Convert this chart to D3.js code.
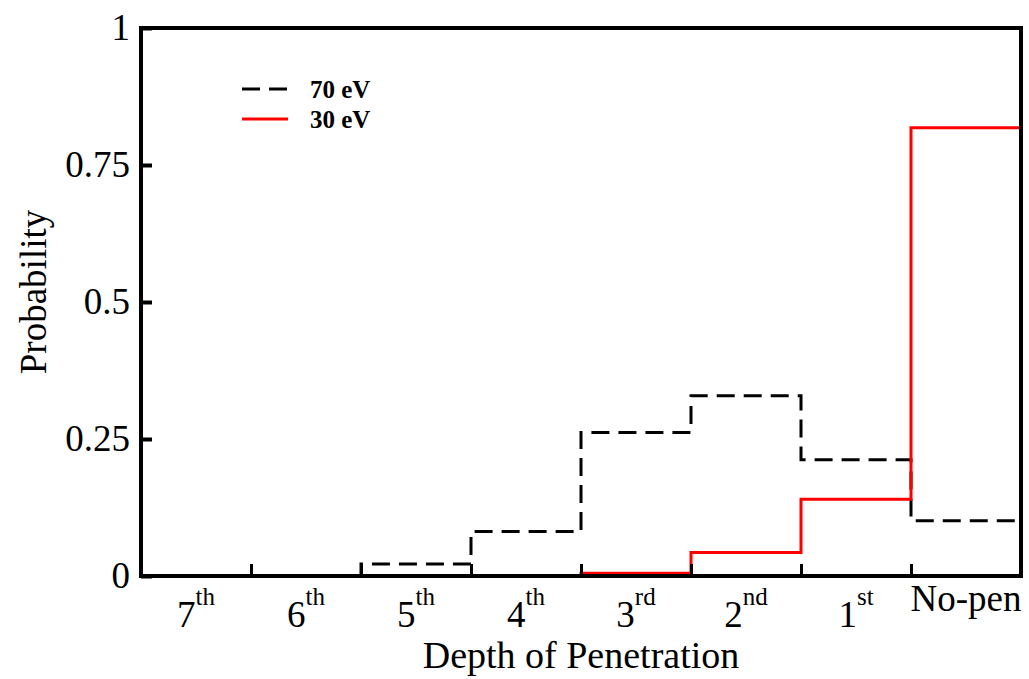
<!DOCTYPE html>
<html>
<head>
<meta charset="utf-8">
<script src="https://cdn.jsdelivr.net/npm/d3@7"></script>
<style>
  body { margin: 0; background: #fff; }
  text { font-family: "Liberation Serif", "Times New Roman", serif; fill: #000; }
</style>
</head>
<body>
<div id="container"></div>
<script>
// data
const depths = ["7", "6", "5", "4", "3", "2", "1", "No-pen"];
const suffixes = ["th", "th", "th", "th", "rd", "nd", "st", ""];
const yTicks = [0, 0.25, 0.5, 0.75, 1];
const yTickLabels = ["0", "0.25", "0.5", "0.75", "1"];
const p70 = [0, 0, 0.022, 0.081, 0.262, 0.329, 0.212, 0.101];
const p30 = [0, 0, 0, 0, 0.005, 0.043, 0.14, 0.818];
const seriesNames = ["70 eV", "30 eV"];

const width = 1029, height = 679;
const margin = { top: 28, right: 8, bottom: 103, left: 141 };

const svg = d3.select("#container").append("svg")
  .attr("width", width)
  .attr("height", height);

const x = d3.scaleBand()
  .domain(depths)
  .range([margin.left, width - margin.right])
  .padding(0);

// bin edges as a linear scale for boundary ticks
const xEdge = d3.scaleLinear()
  .domain([0, depths.length])
  .range([margin.left, width - margin.right]);

const y = d3.scaleLinear()
  .domain([0, 1])
  .range([height - margin.bottom, margin.top]);

// step lines
function stepPoints(vals) {
  const pts = vals.map((v, i) => [x(depths[i]), y(v)]);
  pts.push([x(depths[depths.length - 1]) + x.bandwidth(), y(vals[vals.length - 1])]);
  return pts;
}
const line = d3.line().curve(d3.curveStepAfter);

svg.append("path")
  .attr("d", line(stepPoints(p70)))
  .attr("fill", "none")
  .attr("stroke", "#000")
  .attr("stroke-width", 3)
  .attr("stroke-dasharray", "18,9");

svg.append("path")
  .attr("d", line(stepPoints(p30)))
  .attr("fill", "none")
  .attr("stroke", "#ff0000")
  .attr("stroke-width", 3);

// y axis
const yAxis = svg.append("g")
  .attr("transform", `translate(${margin.left},0)`)
  .call(d3.axisLeft(y)
    .tickValues(yTicks)
    .tickFormat((d, i) => yTickLabels[i])
    .tickSizeInner(-11)
    .tickSizeOuter(0)
    .tickPadding(11));
yAxis.select(".domain").remove();
yAxis.selectAll(".tick line").attr("stroke-width", 4);
yAxis.selectAll(".tick text")
  .style("font-size", "37px")
  .style("font-family", "Liberation Serif, serif");

// boundary ticks on x axis
const xTicks = svg.append("g")
  .attr("transform", `translate(0,${height - margin.bottom})`)
  .call(d3.axisBottom(xEdge)
    .tickValues(d3.range(1, depths.length))
    .tickFormat("")
    .tickSizeInner(-12)
    .tickSizeOuter(0));
xTicks.select(".domain").remove();
xTicks.selectAll(".tick line").attr("stroke-width", 3);

// x labels with superscripts
const xAxis = svg.append("g")
  .attr("transform", `translate(0,${height - margin.bottom})`)
  .call(d3.axisBottom(x).tickSize(0).tickPadding(0));
xAxis.select(".domain").remove();
xAxis.selectAll(".tick text")
  .attr("y", 0)
  .attr("dy", null)
  .style("font-size", "37px")
  .style("font-family", "Liberation Serif, serif")
  .each(function (d, i) {
    const t = d3.select(this);
    t.text(null);
    if (suffixes[i]) {
      t.attr("y", 51);
      t.append("tspan").text(d);
      t.append("tspan")
        .attr("dy", -22)
        .style("font-size", "25px")
        .text(suffixes[i]);
    } else {
      t.attr("y", 35).text(d);
    }
  });

// frame
svg.append("rect")
  .attr("x", margin.left)
  .attr("y", margin.top)
  .attr("width", width - margin.left - margin.right)
  .attr("height", height - margin.top - margin.bottom)
  .attr("fill", "none")
  .attr("stroke", "#000")
  .attr("stroke-width", 4);

// axis titles
svg.append("text")
  .attr("x", (margin.left + width - margin.right) / 2)
  .attr("y", 668)
  .attr("text-anchor", "middle")
  .style("font-size", "38px")
  .text("Depth of Penetration");

svg.append("text")
  .attr("transform", "translate(46,292) rotate(-90)")
  .attr("text-anchor", "middle")
  .style("font-size", "37px")
  .text("Probability");

// legend
const legend = svg.append("g").attr("transform", "translate(242,89)");
legend.selectAll("line")
  .data(seriesNames)
  .join("line")
  .attr("x1", 0)
  .attr("x2", 46)
  .attr("y1", (d, i) => i * 30)
  .attr("y2", (d, i) => i * 30)
  .attr("stroke", (d, i) => i === 0 ? "#000" : "#ff0000")
  .attr("stroke-width", 3)
  .attr("stroke-dasharray", (d, i) => i === 0 ? "18,9" : null);
legend.selectAll("text")
  .data(seriesNames)
  .join("text")
  .attr("x", 68)
  .attr("y", (d, i) => i * 30 + 9)
  .style("font-size", "25px")
  .style("font-weight", "bold")
  .text(d => d);
</script>
</body>
</html>
